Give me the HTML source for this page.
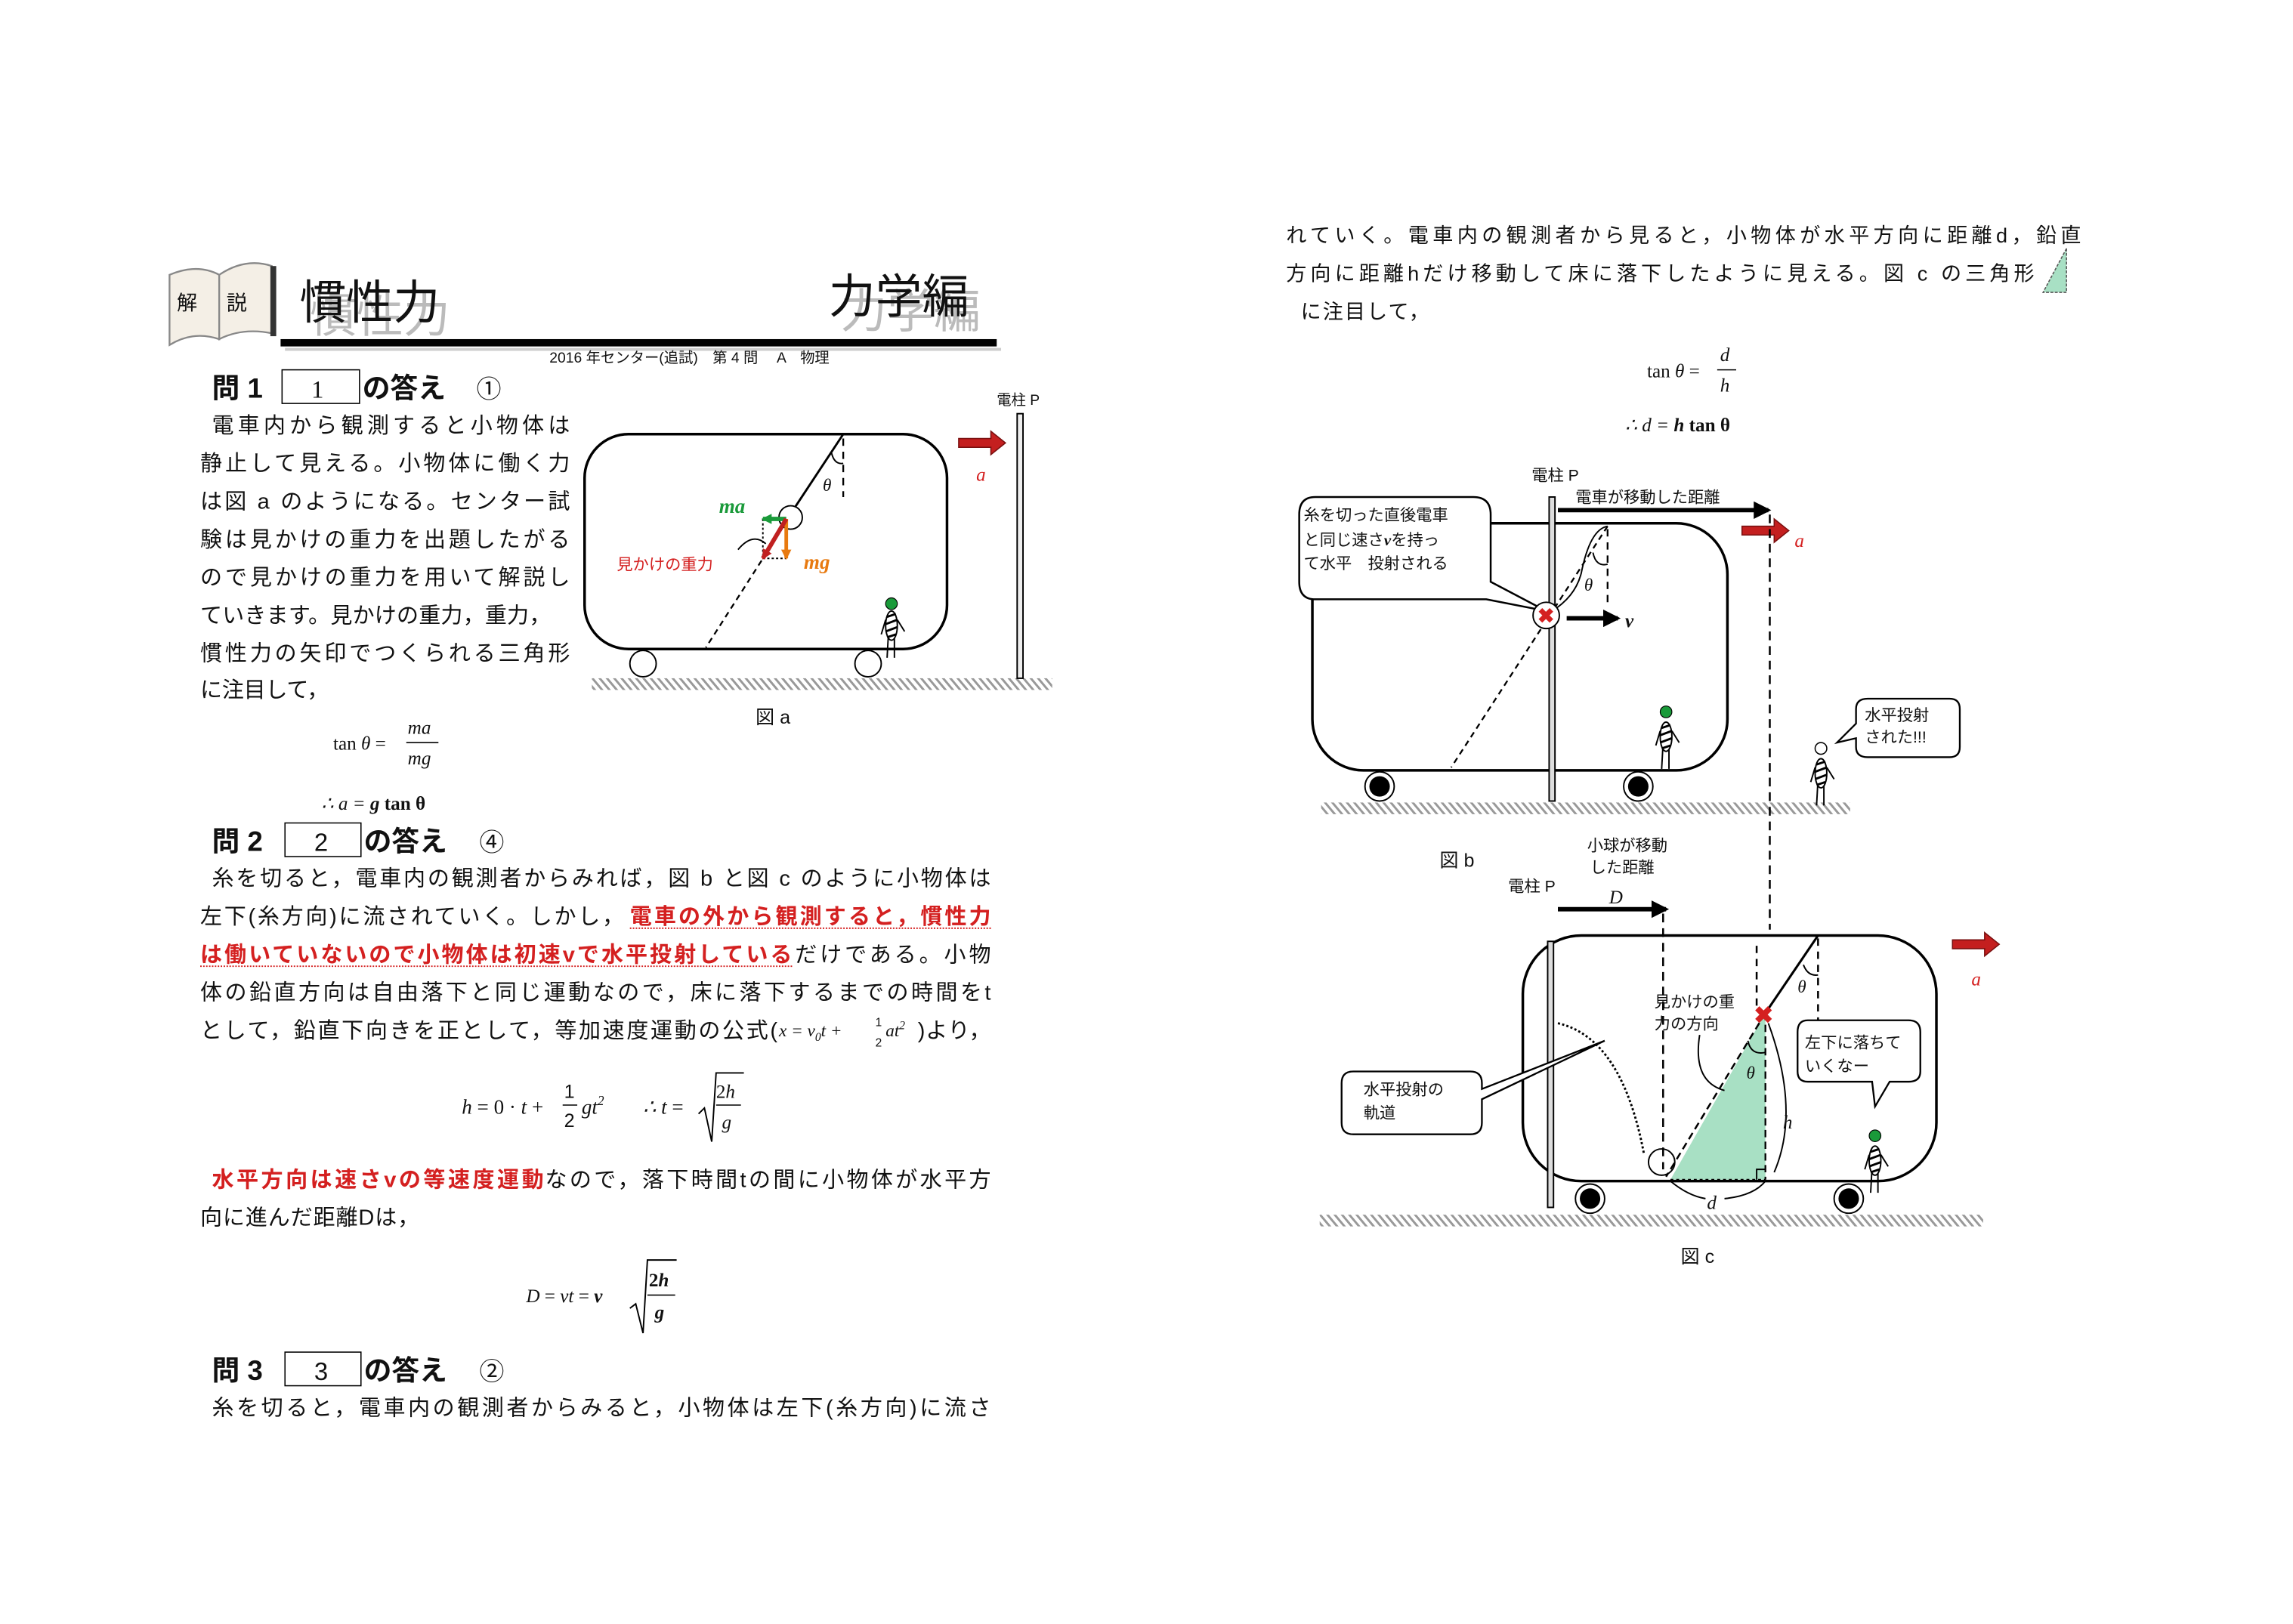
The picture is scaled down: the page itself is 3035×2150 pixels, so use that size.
<!DOCTYPE html>
<html><head><meta charset="utf-8">
<style>
html,body{margin:0;padding:0;background:#fff;}
svg{display:block;}
text{font-family:"Liberation Sans","Noto Sans CJK JP",sans-serif;fill:#111;}
.m{font-family:"Liberation Serif","DejaVu Serif",serif;font-style:italic;}
.mb{font-family:"Liberation Serif","DejaVu Serif",serif;font-style:italic;font-weight:bold;}
.r{fill:#d42020;}
</style></head><body>
<svg width="3035" height="2150" viewBox="0 0 1569 1111" preserveAspectRatio="none" xmlns="http://www.w3.org/2000/svg">
<defs>
<pattern id="hatch" width="5" height="8" patternUnits="userSpaceOnUse" patternTransform="skewX(40)">
<rect x="0" y="0" width="2" height="8" fill="#999"/>
</pattern>
<marker id="ah" markerUnits="userSpaceOnUse" markerWidth="12" markerHeight="12" refX="10" refY="6" orient="auto"><path d="M0,0 L12,6 L0,12 z" fill="#000"/></marker>
<marker id="ahg" markerUnits="userSpaceOnUse" markerWidth="7" markerHeight="7" refX="6" refY="3.5" orient="auto"><path d="M0,0 L7,3.5 L0,7 z" fill="#1a9a3a"/></marker>
<marker id="aho" markerUnits="userSpaceOnUse" markerWidth="7" markerHeight="7" refX="6" refY="3.5" orient="auto"><path d="M0,0 L7,3.5 L0,7 z" fill="#e87a10"/></marker>
<marker id="ahr" markerUnits="userSpaceOnUse" markerWidth="7" markerHeight="7" refX="6" refY="3.5" orient="auto"><path d="M0,0 L7,3.5 L0,7 z" fill="#c02020"/></marker>
<g id="person">
<line x1="-2" y1="8" x2="-3" y2="26" stroke="#000" stroke-width="1"/><line x1="2" y1="8" x2="2" y2="26" stroke="#000" stroke-width="1"/>
<ellipse cx="0" cy="4" rx="4" ry="10" fill="#fff" stroke="#000" stroke-width="1"/>
<path d="M-3,-2 L3,-4 M-4,3 L4,0 M-4,8 L4,5 M-3,12 L3,10" stroke="#000" stroke-width="1.5"/>
<line x1="4" y1="0" x2="9" y2="8" stroke="#000" stroke-width="1"/><line x1="-4" y1="0" x2="-7" y2="10" stroke="#000" stroke-width="1"/>
</g>
<g id="arrowR"><path d="M0,3 L22,3 L22,-2 L32,6 L22,14 L22,9 L0,9 z" fill="#c41f1f" stroke="#7a1010" stroke-width="0.8"/></g>
</defs>

<!-- Header -->
<path d="M116,188 Q135,180 150,188 L150,232 Q132,226 116,236 z" fill="#f4efe6" stroke="#888" stroke-width="1.2"/>
<path d="M150,188 Q168,176 186,182 L186,228 Q166,224 150,232 z" fill="#f4efe6" stroke="#888" stroke-width="1.2"/>
<rect x="185" y="182" width="4" height="48" fill="#333"/>
<text x="121" y="212" font-size="14">解</text><text x="155" y="212" font-size="14">説</text>
<text x="212" y="227" font-size="32" style="fill:#bbb">慣性力</text>
<text x="205" y="218" font-size="32">慣性力</text>
<text x="575" y="224" font-size="32" style="fill:#bbb">力学編</text>
<text x="567" y="214" font-size="32">力学編</text>
<rect x="192" y="232" width="490" height="5" fill="#000"/>
<rect x="195" y="238" width="490" height="2" fill="#ccc"/>
<text x="376" y="248" font-size="10">2016 年センター(追試)　第 4 問　 A　物理</text>

<!-- 問1 -->
<text x="145" y="272" font-size="19" font-weight="bold">問 1</text>
<rect x="193" y="253" width="53" height="23" fill="none" stroke="#000" stroke-width="0.8"/>
<text x="213" y="272" font-size="17" class="m" style="font-style:normal">1</text>
<text x="248" y="272" font-size="19" font-weight="bold">の答え</text>
<text x="326" y="272" font-size="17">①</text>
<g font-size="15">
<text x="145" y="296" textLength="245" lengthAdjust="spacing">電車内から観測すると小物体は</text>
<text x="137" y="322" textLength="253" lengthAdjust="spacing">静止して見える。小物体に働く力</text>
<text x="137" y="348" textLength="253" lengthAdjust="spacing">は図 a のようになる。センター試</text>
<text x="137" y="374" textLength="253" lengthAdjust="spacing">験は見かけの重力を出題したがる</text>
<text x="137" y="400" textLength="253" lengthAdjust="spacing">ので見かけの重力を用いて解説し</text>
<text x="137" y="426" textLength="240" lengthAdjust="spacing">ていきます。見かけの重力，重力，</text>
<text x="137" y="452" textLength="253" lengthAdjust="spacing">慣性力の矢印でつくられる三角形</text>
<text x="137" y="477" textLength="88" lengthAdjust="spacing">に注目して，</text>
</g>
<text x="228" y="513" font-size="13" class="m" style="font-style:normal">tan <tspan class="m">θ</tspan> =</text>
<text x="279" y="502" font-size="13" class="m">ma</text>
<line x1="278" y1="508" x2="300" y2="508" stroke="#000" stroke-width="0.8"/>
<text x="279" y="523" font-size="13" class="m">mg</text>
<text x="220" y="554" font-size="13" class="m">∴ a = <tspan font-weight="bold">g</tspan> <tspan font-weight="bold" style="font-style:normal">tan θ</tspan></text>

<!-- 問2 -->
<text x="145" y="582" font-size="19" font-weight="bold">問 2</text>
<rect x="195" y="563" width="52" height="23" fill="none" stroke="#000" stroke-width="0.8"/>
<text x="215" y="582" font-size="17">2</text>
<text x="249" y="582" font-size="19" font-weight="bold">の答え</text>
<text x="328" y="582" font-size="17">④</text>
<g font-size="15">
<text x="145" y="606" textLength="533" lengthAdjust="spacing">糸を切ると，電車内の観測者からみれば，図 b と図 c のように小物体は</text>
<text x="137" y="632" textLength="290" lengthAdjust="spacing">左下(糸方向)に流されていく。しかし，</text>
<text x="431" y="632" textLength="247" lengthAdjust="spacing" class="r" font-weight="bold">電車の外から観測すると，慣性力</text>
<line x1="431" y1="635" x2="679" y2="635" stroke="#d42020" stroke-width="1" stroke-dasharray="1,1"/>
<text x="137" y="658" textLength="405" lengthAdjust="spacing" class="r" font-weight="bold">は働いていないので小物体は初速vで水平投射している</text>
<line x1="137" y1="661" x2="543" y2="661" stroke="#d42020" stroke-width="1" stroke-dasharray="1,1"/>
<text x="544" y="658" textLength="134" lengthAdjust="spacing">だけである。小物</text>
<text x="137" y="684" textLength="541" lengthAdjust="spacing">体の鉛直方向は自由落下と同じ運動なので，床に落下するまでの時間をt</text>
<text x="137" y="710" textLength="395" lengthAdjust="spacing">として，鉛直下向きを正として，等加速度運動の公式(</text>
<text x="628" y="710" textLength="50" lengthAdjust="spacing">)より，</text>
</g>
<text x="533" y="709" font-size="12" class="m">x = v<tspan font-size="8" dy="3">0</tspan><tspan dy="-3">t +</tspan></text>
<text x="599" y="702" font-size="8">1</text><text x="599" y="716" font-size="8">2</text>
<text x="606" y="709" font-size="12" class="m">at<tspan font-size="8" dy="-5">2</tspan></text>

<text x="316" y="762" font-size="14" class="m">h <tspan style="font-style:normal">= 0 · </tspan>t <tspan style="font-style:normal">+</tspan></text>
<text x="386" y="751" font-size="13">1</text>
<line x1="385" y1="756" x2="395" y2="756" stroke="#000" stroke-width="0.8"/>
<text x="386" y="771" font-size="13">2</text>
<text x="398" y="762" font-size="14" class="m">gt<tspan font-size="9" dy="-6">2</tspan></text>
<text x="440" y="762" font-size="14" class="m">∴ t <tspan style="font-style:normal">=</tspan></text>
<path d="M478,762 L482,758 L487,781 L490,734 L509,734" fill="none" stroke="#000" stroke-width="1"/>
<text x="490" y="751" font-size="13" class="m" style="font-style:normal">2<tspan class="m">h</tspan></text>
<line x1="490" y1="756" x2="507" y2="756" stroke="#000" stroke-width="0.8"/>
<text x="494" y="772" font-size="13" class="m">g</text>

<g font-size="15">
<text x="145" y="812" textLength="227" lengthAdjust="spacing" class="r" font-weight="bold">水平方向は速さvの等速度運動</text>
<text x="373" y="812" textLength="305" lengthAdjust="spacing">なので，落下時間tの間に小物体が水平方</text>
<text x="137" y="838" textLength="150" lengthAdjust="spacing">向に進んだ距離Dは，</text>
</g>
<text x="360" y="891" font-size="13" class="m">D <tspan style="font-style:normal">=</tspan> vt <tspan style="font-style:normal">=</tspan> <tspan font-weight="bold">v</tspan></text>
<path d="M431,895 L435,892 L440,912 L443,862 L463,862" fill="none" stroke="#000" stroke-width="1"/>
<text x="444" y="880" font-size="13" class="mb" style="font-style:normal">2<tspan class="mb">h</tspan></text>
<line x1="443" y1="886" x2="462" y2="886" stroke="#000" stroke-width="0.8"/>
<text x="448" y="902" font-size="13" class="mb">g</text>

<!-- 問3 -->
<text x="145" y="944" font-size="19" font-weight="bold">問 3</text>
<rect x="195" y="925" width="52" height="23" fill="none" stroke="#000" stroke-width="0.8"/>
<text x="215" y="944" font-size="17">3</text>
<text x="249" y="944" font-size="19" font-weight="bold">の答え</text>
<text x="328" y="944" font-size="17">②</text>
<text x="145" y="968" font-size="15" textLength="533" lengthAdjust="spacing">糸を切ると，電車内の観測者からみると，小物体は左下(糸方向)に流さ</text>

<!-- Figure a -->
<rect x="400" y="297" width="248" height="147" rx="30" fill="none" stroke="#000" stroke-width="1.8"/>
<circle cx="440" cy="454" r="9" fill="#fff" stroke="#000" stroke-width="1"/>
<circle cx="594" cy="454" r="9" fill="#fff" stroke="#000" stroke-width="1"/>
<rect x="405" y="464" width="315" height="8" fill="url(#hatch)"/>
<rect x="696" y="283" width="4" height="181" fill="#eee" stroke="#000" stroke-width="1"/>
<text x="682" y="277" font-size="10">電柱 P</text>
<use href="#arrowR" x="656" y="297"/>
<text x="668" y="329" font-size="13" class="m r">a</text>
<line x1="577" y1="297" x2="542" y2="350" stroke="#000" stroke-width="1.5"/>
<line x1="540" y1="354" x2="483" y2="443" stroke="#000" stroke-width="1.2" stroke-dasharray="4,3"/>
<line x1="577" y1="300" x2="577" y2="340" stroke="#000" stroke-width="1.2" stroke-dasharray="5,4"/>
<path d="M569,310 Q571,318 577,317" fill="none" stroke="#000" stroke-width="1"/>
<text x="563" y="336" font-size="12" class="m">θ</text>
<circle cx="541" cy="354" r="8" fill="#fff" stroke="#000" stroke-width="1"/>
<path d="M522,355 L522,382 L538,382" fill="none" stroke="#000" stroke-width="1" stroke-dasharray="1.5,1.5"/>
<line x1="538" y1="355" x2="522" y2="355" stroke="#1a9a3a" stroke-width="3" marker-end="url(#ahg)"/>
<line x1="538" y1="355" x2="538" y2="382" stroke="#e87a10" stroke-width="2.5" marker-end="url(#aho)"/>
<line x1="538" y1="355" x2="522" y2="382" stroke="#c02020" stroke-width="3" marker-end="url(#ahr)"/>
<path d="M505,376 Q515,364 524,372" fill="none" stroke="#000" stroke-width="1"/>
<text x="492" y="351" font-size="14" class="mb" style="fill:#1a9a3a">ma</text>
<text x="422" y="390" font-size="11" class="r">見かけの重力</text>
<text x="550" y="389" font-size="14" class="mb" style="fill:#e87a10">mg</text>
<circle cx="610" cy="413" r="4" fill="#1a9a3a" stroke="#000" stroke-width="0.6"/>
<use href="#person" x="610" y="424"/>
<text x="517" y="495" font-size="13">図 a</text>

<!-- Right text -->
<g font-size="14">
<text x="880" y="166" textLength="544" lengthAdjust="spacing">れていく。電車内の観測者から見ると，小物体が水平方向に距離d，鉛直</text>
<text x="880" y="192" textLength="512" lengthAdjust="spacing">方向に距離hだけ移動して床に落下したように見える。図 c の三角形</text>
<text x="890" y="218" textLength="88" lengthAdjust="spacing">に注目して，</text>
</g>
<path d="M1414,170 L1414,200 L1398,200 z" fill="#a8e0c4" stroke="#555" stroke-width="0.8" stroke-dasharray="2,1"/>
<text x="1127" y="258" font-size="13" class="m" style="font-style:normal">tan <tspan class="m">θ</tspan> =</text>
<text x="1177" y="247" font-size="13" class="m">d</text>
<line x1="1175" y1="253" x2="1188" y2="253" stroke="#000" stroke-width="0.8"/>
<text x="1177" y="268" font-size="13" class="m">h</text>
<text x="1112" y="295" font-size="13" class="m">∴ d = <tspan font-weight="bold">h</tspan> <tspan font-weight="bold" style="font-style:normal">tan θ</tspan></text>

<!-- Figure b -->
<rect x="898" y="358" width="284" height="169" rx="35" fill="none" stroke="#000" stroke-width="1.8"/>
<circle cx="944" cy="538" r="10" fill="#fff" stroke="#000" stroke-width="1"/><circle cx="944" cy="538" r="7" fill="#000"/>
<circle cx="1121" cy="538" r="10" fill="#fff" stroke="#000" stroke-width="1"/><circle cx="1121" cy="538" r="7" fill="#000"/>
<rect x="904" y="549" width="362" height="8" fill="url(#hatch)"/>
<rect x="1060" y="340" width="4" height="208" fill="#ddd" stroke="#000" stroke-width="1"/>
<text x="1048" y="329" font-size="11">電柱 P</text>
<line x1="1066" y1="349" x2="1210" y2="349" stroke="#000" stroke-width="3" marker-end="url(#ah)"/>
<text x="1078" y="344" font-size="11">電車が移動した距離</text>
<use href="#arrowR" x="1192" y="357"/>
<text x="1228" y="374" font-size="13" class="m r">a</text>
<line x1="1211" y1="352" x2="1211" y2="636" stroke="#000" stroke-width="1.3" stroke-dasharray="6,4"/>
<path d="M889,352 Q889,340 900,340 L1008,340 Q1020,340 1020,352 L1020,398 L1058,418 L1017,410 L900,410 Q889,410 889,398 z" fill="#fff" stroke="#000" stroke-width="1.3"/>
<g font-size="11"><text x="892" y="356">糸を切った直後電車</text><text x="892" y="373">と同じ速さ<tspan class="mb">v</tspan>を持っ</text><text x="892" y="389">て水平　投射される</text></g>
<path d="M1100,360 Q1088,362 1082,392 Q1078,408 1062,418" fill="none" stroke="#000" stroke-width="1"/>
<line x1="1100" y1="360" x2="993" y2="525" stroke="#000" stroke-width="1.2" stroke-dasharray="4,3"/>
<line x1="1100" y1="362" x2="1100" y2="412" stroke="#000" stroke-width="1.2" stroke-dasharray="5,4"/>
<path d="M1090,378 Q1092,388 1100,386" fill="none" stroke="#000" stroke-width="1"/>
<text x="1084" y="404" font-size="12" class="m">θ</text>
<circle cx="1058" cy="421" r="9" fill="#fff" stroke="#000" stroke-width="1"/>
<text x="1052" y="426" font-size="14" font-weight="bold" class="r">✖</text>
<line x1="1072" y1="423" x2="1107" y2="423" stroke="#000" stroke-width="3" marker-end="url(#ah)"/>
<text x="1112" y="429" font-size="13" class="mb">v</text>
<circle cx="1140" cy="487" r="4" fill="#1a9a3a" stroke="#000" stroke-width="0.6"/>
<use href="#person" x="1140" y="500"/>
<circle cx="1246" cy="512" r="4" fill="#fff" stroke="#000" stroke-width="0.8"/>
<use href="#person" x="1246" y="525"/>
<path d="M1278,478 L1334,478 Q1341,478 1341,485 L1341,511 Q1341,518 1334,518 L1278,518 Q1270,518 1270,511 L1270,505 L1257,508 L1270,495 L1270,485 Q1270,478 1278,478 z" fill="#fff" stroke="#000" stroke-width="1.2"/>
<g font-size="11"><text x="1276" y="493">水平投射</text><text x="1276" y="508">された!!!</text></g>
<text x="985" y="593" font-size="13">図 b</text>

<!-- Figure c -->
<text x="1086" y="582" font-size="11">小球が移動</text>
<text x="1088" y="597" font-size="11">した距離</text>
<text x="1032" y="610" font-size="11">電柱 P</text>
<text x="1101" y="618" font-size="13" class="m">D</text>
<line x1="1066" y1="622" x2="1140" y2="622" stroke="#000" stroke-width="3" marker-end="url(#ah)"/>
<line x1="1138" y1="625" x2="1138" y2="800" stroke="#000" stroke-width="1.3" stroke-dasharray="6,4"/>
<rect x="1042" y="640" width="283" height="168" rx="40" fill="none" stroke="#000" stroke-width="1.8"/>
<rect x="1059" y="644" width="4" height="182" fill="#ddd" stroke="#000" stroke-width="1"/>
<circle cx="1088" cy="820" r="10" fill="#fff" stroke="#000" stroke-width="1"/><circle cx="1088" cy="820" r="7" fill="#000"/>
<circle cx="1265" cy="820" r="10" fill="#fff" stroke="#000" stroke-width="1"/><circle cx="1265" cy="820" r="7" fill="#000"/>
<rect x="903" y="831" width="454" height="8" fill="url(#hatch)"/>
<use href="#arrowR" x="1336" y="640"/>
<text x="1349" y="674" font-size="13" class="m r">a</text>
<polygon points="1208,693 1143,807 1208,807" fill="#a8e0c4"/>
<line x1="1143" y1="807" x2="1208" y2="807" stroke="#000" stroke-width="1" stroke-dasharray="2,2"/>
<line x1="1208" y1="693" x2="1208" y2="807" stroke="#000" stroke-width="1.2" stroke-dasharray="5,3"/>
<path d="M1202,807 L1202,800 L1208,800" fill="none" stroke="#000" stroke-width="1"/>
<line x1="1244" y1="640" x2="1208" y2="693" stroke="#000" stroke-width="1.6"/>
<line x1="1208" y1="693" x2="1140" y2="805" stroke="#000" stroke-width="1.3" stroke-dasharray="5,3"/>
<line x1="1244" y1="642" x2="1244" y2="700" stroke="#000" stroke-width="1.3" stroke-dasharray="5,4"/>
<line x1="1202" y1="647" x2="1202" y2="692" stroke="#000" stroke-width="1.3" stroke-dasharray="5,4"/>
<path d="M1234,660 Q1237,668 1244,667" fill="none" stroke="#000" stroke-width="1"/>
<text x="1230" y="679" font-size="12" class="m">θ</text>
<path d="M1196,712 Q1198,722 1208,720" fill="none" stroke="#000" stroke-width="1"/>
<text x="1195" y="738" font-size="12" class="m">θ</text>
<text x="1200" y="700" font-size="16" font-weight="bold" class="r">✖</text>
<g font-size="11" class="r"><text x="1132" y="689">見かけの重</text><text x="1132" y="704">力の方向</text></g>
<path d="M1163,708 Q1158,740 1180,746" fill="none" stroke="#000" stroke-width="1"/>
<path d="M1210,700 Q1232,760 1214,802" fill="none" stroke="#000" stroke-width="1"/>
<text x="1220" y="772" font-size="13" class="m">h</text>
<path d="M1143,808 Q1155,818 1167,820 M1180,820 Q1200,818 1208,808" fill="none" stroke="#000" stroke-width="1"/>
<text x="1168" y="827" font-size="13" class="m">d</text>
<path d="M1066,700 Q1110,710 1125,790" fill="none" stroke="#000" stroke-width="1.5" stroke-dasharray="1.5,1.5"/>
<circle cx="1137" cy="795" r="9" fill="none" stroke="#000" stroke-width="1"/>
<path d="M926,733 L1006,733 Q1014,733 1014,741 L1014,745 L1098,712 L1014,752 L1014,768 Q1014,776 1006,776 L926,776 Q918,776 918,768 L918,741 Q918,733 926,733 z" fill="#fff" stroke="#000" stroke-width="1.2"/>
<g font-size="11"><text x="933" y="749">水平投射の</text><text x="933" y="765">軌道</text></g>
<path d="M1237,698 L1306,698 Q1314,698 1314,706 L1314,733 Q1314,740 1306,740 L1293,740 L1283,757 L1281,740 L1237,740 Q1230,740 1230,733 L1230,706 Q1230,698 1237,698 z" fill="#fff" stroke="#000" stroke-width="1.2"/>
<g font-size="11"><text x="1235" y="717">左下に落ちて</text><text x="1235" y="733">いくなー</text></g>
<circle cx="1283" cy="777" r="4" fill="#1a9a3a" stroke="#000" stroke-width="0.6"/>
<use href="#person" x="1283" y="790"/>
<text x="1150" y="864" font-size="13">図 c</text>
</svg>
</body></html>
